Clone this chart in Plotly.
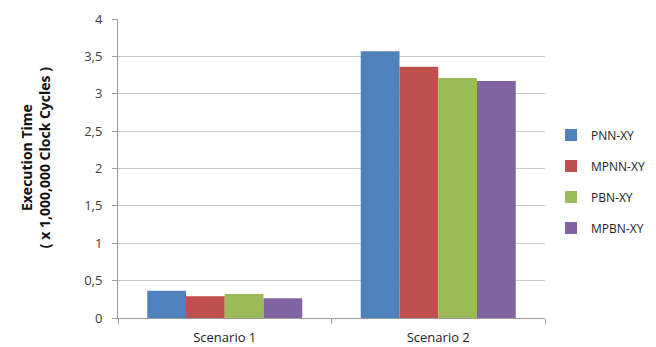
import plotly.graph_objects as go

categories = ["Scenario 1", "Scenario 2"]
series_names = ["PNN-XY", "MPNN-XY", "PBN-XY", "MPBN-XY"]
pnn_xy = [0.365, 3.57]
mpnn_xy = [0.29, 3.36]
pbn_xy = [0.32, 3.21]
mpbn_xy = [0.265, 3.17]
series_values = [pnn_xy, mpnn_xy, pbn_xy, mpbn_xy]
colors = ["#4F81BD", "#C0504D", "#9BBB59", "#8064A2"]
y_tick_vals = [0, 0.5, 1, 1.5, 2, 2.5, 3, 3.5, 4]
y_tick_text = ["0", "0,5", "1", "1,5", "2", "2,5", "3", "3,5", "4"]
y_title = "<b>Execution Time<br>( x 1,000,000 Clock Cycles )</b>"

font_family = "Open Sans, Liberation Sans, sans-serif"

fig = go.Figure()
for i, (name, vals, col) in enumerate(zip(series_names, series_values, colors)):
    fig.add_trace(go.Bar(
        x=categories, y=vals, name=name, legendgroup=f"g{i}",
        marker=dict(color=col, line=dict(width=0)),
    ))

fig.update_layout(
    width=656, height=347,
    margin=dict(l=118, r=111, t=19, b=29, autoexpand=False),
    paper_bgcolor="white", plot_bgcolor="white",
    barmode="group", bargap=0.274, bargroupgap=0,
    font=dict(family=font_family, size=12, color="#404040"),
    showlegend=True,
    legend=dict(
        xref="container", yref="container",
        x=0.84, y=0.477, xanchor="left", yanchor="middle",
        font=dict(size=12, color="#222"),
        tracegroupgap=12, bgcolor="rgba(0,0,0,0)",
        itemwidth=30,
    ),
    xaxis=dict(
        type="category", showline=True, linecolor="#9a9a9a", linewidth=1,
        ticks="outside", tickson="boundaries", ticklen=5, tickcolor="#9a9a9a",
        showgrid=False, tickfont=dict(size=13, color="#222"), automargin=False,
        ticklabelstandoff=7,
    ),
    yaxis=dict(
        range=[0, 4], tickvals=y_tick_vals, ticktext=y_tick_text,
        showline=True, linecolor="#9a9a9a", linewidth=1,
        ticks="outside", ticklen=5, tickcolor="#9a9a9a",
        showgrid=True, gridcolor="#c8c8c8", gridwidth=1,
        tickfont=dict(size=13, color="#404040"), zeroline=False, automargin=False,
        ticklabelstandoff=7,
    ),
    annotations=[dict(
        text=y_title, textangle=-90, showarrow=False,
        xref="paper", yref="paper", x=-0.194, y=0.535,
        xanchor="center", yanchor="middle",
        font=dict(size=14, color="#111"),
    )],
)

fig.write_html("out.html")
